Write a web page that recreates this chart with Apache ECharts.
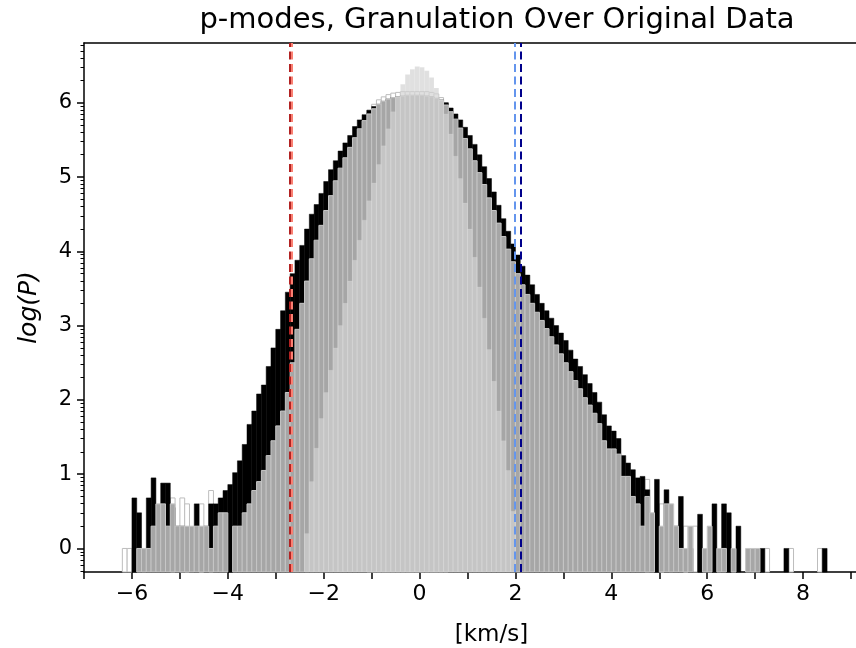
<!DOCTYPE html>
<html>
<head>
<meta charset="utf-8">
<script src="https://cdn.jsdelivr.net/npm/echarts@6/dist/echarts.min.js"></script>
<style>
  html, body { margin: 0; background: #fff; }
  #chart { width: 856px; height: 648px; }
</style>
</head>
<body>
<div id="chart"></div>
<script>
// histogram bins: left edges start at binStart, step binWidth (km/s)
var binStart = -6.2;
var binWidth = 0.1;

// original data, log10(count) per bin (null = empty bin)
var originalLog = [
  null, null, 0.68, 0.48, null, 0.68, 0.95, 0.3, 0.88, 0.88,
  0.55, 0.3, 0.3, null, null, 0.6, null, 0.3, 0.6, 0.6,
  0.68, 0.78, 0.86, 1.02, 1.18, 1.40, 1.67, 1.85, 2.08, 2.2,
  2.45, 2.7, 2.95, 3.2, 3.45, 3.7, 3.88, 4.08, 4.3, 4.5,
  4.63, 4.78, 4.94, 5.1, 5.22, 5.35, 5.46, 5.56, 5.68, 5.77,
  5.84, 5.9, 5.95, 5.98, 6.02, 6.05, 6.07, 6.08, 6.09, 6.1,
  6.1, 6.1, 6.1, 6.09, 6.08, 6.06, 6.04, 6.0, 5.93, 5.85,
  5.77, 5.67, 5.56, 5.44, 5.3, 5.14, 4.98, 4.8, 4.62, 4.44,
  4.27, 4.1, 3.95, 3.8, 3.68, 3.55, 3.42, 3.3, 3.2, 3.1,
  3.0, 2.9, 2.8, 2.67, 2.55, 2.45, 2.34, 2.22, 2.1, 1.97,
  1.8, 1.65, 1.58, 1.48, 1.25, 1.15, 1.06, 0.95, 0.97, 0.79,
  null, 0.93, null, 0.79, null, 0.3, 0.7, null, 0, null,
  0.46, null, null, 0.6, null, 0.6, 0.48, null, 0.3, null,
  null, null, null, 0, null, null, null, null, 0, null,
  null, null, null, null, null, null, 0
];

// granulation, same bins
var granulationLog = [
  null, null, null, 0, 0, 0, 0.3, 0.6, 0.6, 0.3,
  0.6, 0.3, 0.3, 0.3, 0.3, 0.3, 0.3, 0.3, 0, 0.3,
  0.48, 0.48, null, 0.3, 0.3, 0.48, 0.6, 0.78, 0.9, 1.05,
  1.25, 1.45, 1.65, 1.85, 2.1, 2.5, 2.95, 3.3, 3.6, 3.9,
  4.15, 4.35, 4.55, 4.75, 4.95, 5.12, 5.26, 5.4, 5.53, 5.65,
  5.76, 5.85, 5.92, 5.98, 6.02, 6.05, 6.07, 6.08, 6.09, 6.1,
  6.1, 6.1, 6.1, 6.09, 6.08, 6.06, 6.03, 5.97, 5.88, 5.78,
  5.66, 5.52, 5.38, 5.22, 5.06, 4.9, 4.72, 4.55, 4.38, 4.2,
  4.03, 3.86, 3.7, 3.55, 3.42, 3.3, 3.18, 3.07, 2.96, 2.85,
  2.74, 2.62, 2.5, 2.38, 2.26, 2.15, 2.03, 1.93, 1.82, 1.68,
  1.45, 1.34, 1.34, 1.27, 0.97, 0.97, 0.7, 0.6, 0.3, 0.7,
  0.48, null, 0.3, 0.6, 0.6, 0.3, 0, 0, 0.3, null,
  null, 0, 0.3, null, 0, 0, null, 0, null, null,
  0, 0, 0, null, null, null, null, null, null, null,
  null, null, null, null, null, null, null
];

// p-modes, narrow peak
var pmodeStart = -2.4;
var pmodesLog = [
  0.2, 0.9, 1.35, 1.75, 2.1, 2.4, 2.7, 3.0, 3.3, 3.6,
  3.88, 4.15, 4.42, 4.68, 4.92, 5.17, 5.42, 5.65, 5.88, 6.08,
  6.25, 6.38, 6.45, 6.49, 6.48, 6.43, 6.34, 6.2, 6.05, 5.85,
  5.58, 5.28, 4.98, 4.65, 4.3, 3.92, 3.52, 3.1, 2.68, 2.25,
  1.85, 1.45, 1.05, 0.5
];

// outlined (unfilled) bars: left edge and log10(count)
var outlineEdges = [-6.2, -6.1, -5.2, -5.0, -4.9, -4.6, -4.4,
  -1.1, -1.0, -0.9, -0.8, -0.7, -0.6, -0.5, -0.4, -0.3, -0.2, -0.1, 0.0, 0.1, 0.2, 0.3, 0.4, 0.5,
  4.7, 5.0, 5.5, 5.7, 7.2, 7.7, 8.3];
var outlineLog = [0, 0, 0.68, 0.68, 0.6, 0.6, 0.78,
  5.9, 5.98, 6.04, 6.08, 6.11, 6.13, 6.14, 6.15, 6.15, 6.15, 6.15, 6.15, 6.15, 6.14, 6.12, 6.07, 6.0,
  0.93, 0.6, 0.3, 0.3, 0, 0, 0];

// dashed velocity thresholds
var thresholds = [-2.71, -2.66, 1.98, 2.12];

var yTicks = [0, 1, 2, 3, 4, 5, 6];
var xLabelTicks = [-6, -4, -2, 0, 2, 4, 6, 8, 10];

var Y_MIN = -0.317, Y_MAX = 6.805;
var X_MIN = -7, X_MAX = 10;

// minor ticks of the log axis (2..9 x 10^k)
var minorTicks = [];
for (var k = -1; k <= 6; k++) {
    for (var m = 2; m <= 9; m++) {
        var t = k + Math.log10(m);
        if (t > Y_MIN && t < Y_MAX) minorTicks.push(t);
    }
}

function toBins(start, vals) {
    var out = [];
    for (var i = 0; i < vals.length; i++) {
        if (vals[i] === null) continue;
        var x0 = +(start + i * binWidth).toFixed(3);
        out.push([x0, +(x0 + binWidth).toFixed(3), vals[i]]);
    }
    return out;
}

function histItem(fill, stroke, lw, opacity) {
    return function (params, api) {
        var p0 = api.coord([api.value(0), api.value(2)]);
        var p1 = api.coord([api.value(1), Y_MIN]);
        return {
            type: 'rect',
            shape: {x: p0[0], y: p0[1], width: p1[0] - p0[0], height: p1[1] - p0[1]},
            style: {fill: fill, stroke: stroke, lineWidth: lw, opacity: opacity}
        };
    };
}

function minus(v) {
    return String(v).replace('-', '\u2212');
}

var outlineData = outlineEdges.map(function (e, i) {
    return [e, +(e + binWidth).toFixed(3), outlineLog[i]];
});

var lineColors = ['#b22222', '#fa8072', '#6495ed', '#00008b'];
var FONT = 'DejaVu Sans';

var chart = echarts.init(document.getElementById('chart'));
var option = {
    animation: false,
    backgroundColor: '#fff',
    title: {
        text: 'p-modes, Granulation Over Original Data',
        left: 492,
        top: 1,
        textAlign: 'center',
        textStyle: {fontFamily: FONT, fontSize: 29, fontWeight: 'normal', color: '#000'}
    },
    grid: {left: 84, right: -43, top: 43, bottom: 76, containLabel: false, outerBoundsMode: 'none'},
    xAxis: [{
        type: 'value',
        min: X_MIN, max: X_MAX, interval: 1,
        position: 'bottom',
        name: '[km/s]',
        nameLocation: 'middle',
        nameGap: 52,
        nameTextStyle: {fontFamily: FONT, fontSize: 23, color: '#000'},
        axisLine: {onZero: false, lineStyle: {color: '#000', width: 1.5}},
        axisTick: {length: 7, lineStyle: {color: '#000', width: 1.5}},
        axisLabel: {
            customValues: xLabelTicks,
            formatter: minus,
            margin: 11,
            fontFamily: FONT, fontSize: 22, color: '#000'
        },
        splitLine: {show: false}
    }, {
        type: 'value',
        min: X_MIN, max: X_MAX,
        position: 'top',
        axisLine: {onZero: false, lineStyle: {color: '#000', width: 1.5}},
        axisTick: {show: false},
        axisLabel: {show: false},
        splitLine: {show: false}
    }],
    yAxis: [{
        type: 'value',
        min: Y_MIN, max: Y_MAX,
        position: 'left',
        name: 'log(P)',
        nameLocation: 'middle',
        nameGap: 42,
        nameRotate: 90,
        nameTextStyle: {fontFamily: FONT, fontSize: 25, fontStyle: 'italic', color: '#000'},
        axisLine: {show: true, onZero: false, lineStyle: {color: '#000', width: 1.5}},
        axisTick: {show: true, customValues: yTicks, length: 7, lineStyle: {color: '#000', width: 1.5}},
        axisLabel: {customValues: yTicks, formatter: minus, margin: 12, fontFamily: FONT, fontSize: 21, color: '#000'},
        splitLine: {show: false}
    }, {
        type: 'value',
        min: Y_MIN, max: Y_MAX,
        position: 'left',
        axisLine: {show: false, onZero: false},
        axisTick: {show: true, customValues: minorTicks, length: 3.5, lineStyle: {color: '#000', width: 1}},
        axisLabel: {show: false},
        splitLine: {show: false}
    }],
    series: [{
        name: 'outline',
        type: 'custom',
        renderItem: histItem('#fff', '#bdbdbd', 1, 1),
        data: outlineData,
        encode: {x: [0, 1], y: 2},
        z: 1
    }, {
        name: 'original',
        type: 'custom',
        renderItem: histItem('#000', '#000', 0.5, 1),
        data: toBins(binStart, originalLog),
        encode: {x: [0, 1], y: 2},
        z: 2
    }, {
        name: 'granulation',
        type: 'custom',
        renderItem: histItem('#a6a6a6', '#c6c6c6', 1, 1),
        data: toBins(binStart, granulationLog),
        encode: {x: [0, 1], y: 2},
        z: 3
    }, {
        name: 'p-modes',
        type: 'custom',
        renderItem: histItem('#d3d3d3', 'rgba(255,255,255,0.25)', 0.6, 0.7),
        data: toBins(pmodeStart, pmodesLog),
        encode: {x: [0, 1], y: 2},
        z: 4,
        markLine: {
            silent: true,
            symbol: ['none', 'none'],
            label: {show: false},
            z: 10,
            data: thresholds.map(function (v, i) {
                return {xAxis: v, lineStyle: {color: lineColors[i], width: 2, type: [8, 4.5]}};
            })
        }
    }]
};
chart.setOption(option);
</script>
</body>
</html>
